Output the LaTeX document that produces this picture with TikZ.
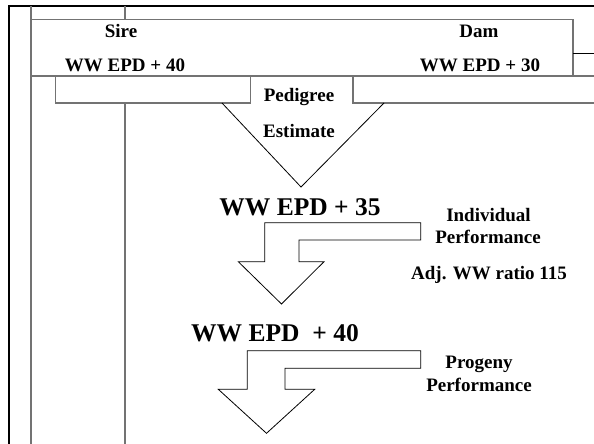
\documentclass[tikz,border=0pt]{standalone}
\usepackage{fontspec}
\setmainfont{Liberation Serif}
\begin{document}
\begin{tikzpicture}[x=1pt,y=-1pt,
  frame/.style={line width=2.6pt,black},
  grayline/.style={line width=1.1pt,draw=black!55},
  arrowline/.style={line width=0.8pt,black,line join=miter},
  lbl/.style={inner sep=0pt,anchor=base,font=\fontsize{19}{22}\selectfont\bfseries},
  biglbl/.style={inner sep=0pt,anchor=base,font=\fontsize{25.5}{30}\selectfont\bfseries}]
\useasboundingbox (0,0) rectangle (594,444);
% frame
\draw[frame] (9,444) -- (9,6) -- (594,6);
% vertical rules
\draw[grayline] (31,6) -- (31,444);
\draw[grayline] (125,6) -- (125,19.5);
\draw[grayline] (125,103) -- (125,444);
% top box
\draw[grayline] (31,19.5) rectangle (573,76);
\draw[arrowline] (573,53) -- (594,53);
% pedigree boxes
\draw[grayline] (55.7,76) rectangle (250.7,103);
\draw[grayline] (596,76) -- (353,76) -- (353,103) -- (596,103);
% merge triangle
\draw[arrowline] (222,103) -- (301,187) -- (384,103);
% bent arrow 1
\draw[arrowline] (264.7,222.7) -- (420.7,222.7) -- (420.7,240) -- (299,240) -- (299,261.7)
  -- (324,261.7) -- (281.5,304) -- (238.3,261.7) -- (264.7,261.7) -- cycle;
% bent arrow 2
\draw[arrowline] (247.3,350.7) -- (420.7,350.7) -- (420.7,368.3) -- (285,368.3) -- (285,389.3)
  -- (314.7,389.3) -- (266.5,433.3) -- (218.3,389.3) -- (247.3,389.3) -- cycle;
% texts
\node[lbl] (sire) at (121,37.3) {Sire};
\node[lbl] (sireepd) at (125,71.7) {WW EPD + 40};
\node[lbl] (dam) at (479,37.3) {Dam};
\node[lbl] (damepd) at (480,71.7) {WW EPD + 30};
\node[lbl] (ped) at (299,101.7) {Pedigree};
\node[lbl] (est) at (299,137.3) {Estimate};
\node[biglbl] (epd35) at (300,215.7) {WW EPD + 35};
\node[lbl] (ind) at (488.5,221) {Individual};
\node[lbl] (perf1) at (488,243.3) {Performance};
\node[lbl] (adj) at (489,279.3) {Adj. WW ratio 115};
\node[biglbl] (epd40) at (275,341.7) {WW EPD\ \ + 40};
\node[lbl] (prog) at (479,368.3) {Progeny};
\node[lbl] (perf2) at (479,391.7) {Performance};
\end{tikzpicture}
\end{document}
